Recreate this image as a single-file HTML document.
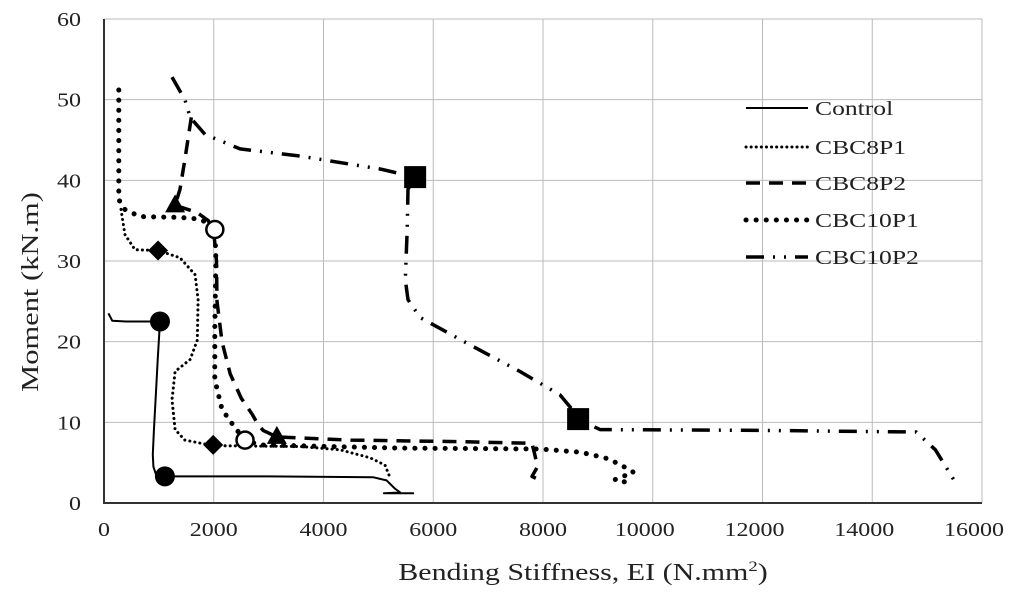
<!DOCTYPE html>
<html><head><meta charset="utf-8"><style>
html,body{margin:0;padding:0;background:#fff;}
svg text{font-family:"Liberation Serif",serif;fill:#222;}
</style></head><body>
<svg id="chart" width="1024" height="594" viewBox="0 0 1024 594" xmlns="http://www.w3.org/2000/svg">
<g id="grid"></g>
<g id="series"></g>
<g id="markers"></g>
<g id="axes"></g>
<text transform="translate(583,580) scale(1.25,1)" font-size="24" text-anchor="middle">Bending Stiffness, EI (N.mm<tspan font-size="15" dy="-9">2</tspan><tspan dy="9">)</tspan></text>
<text transform="translate(38,292) rotate(-90) scale(1.27,1)" font-size="24" text-anchor="middle">Moment (kN.m)</text>
<g id="legend"></g>
</svg>
<script>
const xTicks=[0,2000,4000,6000,8000,10000,12000,14000,16000];
const yTicks=[0,10,20,30,40,50,60];
const seriesNames=["Control","CBC8P1","CBC8P2","CBC10P1","CBC10P2"];
const controlX=[80,120,150,400,1020,980,950,910,890,900,950,1110,3000,4900,5150,5300,5400,5100,5650];
const controlY=[23.5,23,22.6,22.5,22.5,18,14,9,6,4.5,3.5,3.3,3.3,3.2,2.8,1.8,1.3,1.2,1.2];
const cbc8p1X=[310,380,565,985,1385,1660,1715,1700,1570,1295,1240,1295,1475,1990,3575,4300,4850,5120,5215];
const cbc8p1Y=[36.4,33.3,31.4,31.3,30.4,28.3,25.2,20.2,17.8,16.3,12.8,9.1,7.8,7.1,7.0,6.6,5.6,4.7,3.1];
const cbc8p2X=[1590,1475,1385,1295,1700,1900,2000,2050,2060,2150,2300,2500,2700,2800,2900,3150,4500,6500,7800,7850,7900,7800,7950];
const cbc8p2Y=[47.8,42.6,38.9,36.9,36.0,35.0,33.5,30,25,20,16,13,11,9.8,9.0,8.2,7.8,7.6,7.4,6,4.5,3.3,2.8];
const cbc10p1X=[270,270,380,655,1385,1750,1930,2020,2040,2020,2020,2150,2390,2570,2845,5400,7950,8680,9130,9400,9650,9310,9500];
const cbc10p1Y=[51.2,37.6,36.4,35.5,35.4,35.2,34.5,33.9,30.2,21.5,15.3,11.6,9.3,7.8,7.2,6.8,6.7,6.3,5.6,4.8,3.8,2.9,2.6];
const cbc10p2X=[1240,1475,1570,1840,2480,3575,5030,5670,5540,5525,5490,5540,5760,6670,7580,8310,8530,8640,9040,12000,14800,15150,15520];
const cbc10p2Y=[52.8,50,47.8,45.7,43.9,43,41.4,40.4,38.9,33.9,27.7,25.2,23,19.6,16.3,13.4,11.6,10.4,9.1,9.0,8.8,6.6,2.5];
const markerSeries=["Control","Control","CBC8P1","CBC8P1","CBC8P2","CBC8P2","CBC10P1","CBC10P1","CBC10P2","CBC10P2"];
const markerX=[1020,1110,985,1990,1295,3150,2020,2570,5670,8640];
const markerY=[22.5,3.3,31.3,7.2,36.9,8.2,33.9,7.8,40.4,10.4];

const X0=104,X1=982,Y0=503,Y1=19;
const sx=v=>X0+(v-0)/16000*(X1-X0);
const sy=v=>Y0-(v-0)/60*(Y0-Y1);
const NS="http://www.w3.org/2000/svg";
function mk(tag,parent){const e=document.createElementNS(NS,tag);document.getElementById(parent).appendChild(e);return e;}

xTicks.forEach(t=>{
  if(t>0){const l=mk('line','grid');
  
  
  l.setAttribute('x1',sx(t));l.setAttribute('x2',sx(t));l.setAttribute('y1',Y1);l.setAttribute('y2',Y0);
  l.setAttribute('stroke','#bbb');l.setAttribute('stroke-width','1');}
  const tx=mk('text','axes');
  
  
  tx.setAttribute('transform',`translate(${sx(t)-(t>=10000?8:0)},${Y0+33}) scale(1.2,1)`);
  tx.setAttribute('font-size','20');tx.setAttribute('text-anchor','middle');tx.textContent=t;
});
yTicks.forEach(t=>{
  if(t>0){const l=mk('line','grid');
  
  
  l.setAttribute('x1',X0);l.setAttribute('x2',X1);l.setAttribute('y1',sy(t));l.setAttribute('y2',sy(t));
  l.setAttribute('stroke','#bbb');l.setAttribute('stroke-width','1');}
  const tx=mk('text','axes');
  
  
  tx.setAttribute('transform',`translate(81,${sy(t)+7}) scale(1.2,1)`);
  tx.setAttribute('font-size','20');tx.setAttribute('text-anchor','end');tx.textContent=t;
});
const ax=mk('path','axes');


ax.setAttribute('d',`M${X0},${Y1}V${Y0}H${X1}`);ax.setAttribute('stroke','#333');ax.setAttribute('stroke-width','2');ax.setAttribute('fill','none');

const styles={
 "Control":{w:2,dash:null,cap:'butt'},
 "CBC8P1":{w:3,dash:'0.1 5',cap:'round'},
 "CBC8P2":{w:3.5,dash:'14 9',cap:'butt'},
 "CBC10P1":{w:5,dash:'0.1 10',cap:'round'},
 "CBC10P2":{w:3.5,dash:'18 9 2 9 2 9',cap:'butt'}
};
const data={"Control":[controlX,controlY],"CBC8P1":[cbc8p1X,cbc8p1Y],"CBC8P2":[cbc8p2X,cbc8p2Y],"CBC10P1":[cbc10p1X,cbc10p1Y],"CBC10P2":[cbc10p2X,cbc10p2Y]};
function applyStyle(el,s){el.setAttribute('stroke','#000');el.setAttribute('stroke-width',s.w);el.setAttribute('fill','none');
  if(s.dash)el.setAttribute('stroke-dasharray',s.dash);el.setAttribute('stroke-linecap',s.cap);el.setAttribute('stroke-linejoin','round');}
seriesNames.forEach(n=>{
  const [xs,ys]=data[n];
  const p=mk('path','series');
  
  
  p.setAttribute('d',xs.map((x,i)=>(i?'L':'M')+sx(x).toFixed(1)+','+sy(ys[i]).toFixed(1)).join(''));
  applyStyle(p,styles[n]);
});
markerSeries.forEach((n,i)=>{
  const cx=sx(markerX[i]),cy=sy(markerY[i]);let m;
  if(n==="Control"){m=mk('circle','markers');m.setAttribute('cx',cx);m.setAttribute('cy',cy);m.setAttribute('r',10);m.setAttribute('fill','#000');}
  else if(n==="CBC8P1"){m=mk('path','markers');m.setAttribute('d',`M${cx},${cy-10}L${cx+10},${cy}L${cx},${cy+10}L${cx-10},${cy}Z`);m.setAttribute('fill','#000');}
  else if(n==="CBC8P2"){m=mk('path','markers');m.setAttribute('d',`M${cx},${cy-11}L${cx+10},${cy+7}L${cx-10},${cy+7}Z`);m.setAttribute('fill','#000');}
  else if(n==="CBC10P1"){m=mk('circle','markers');m.setAttribute('cx',cx);m.setAttribute('cy',cy);m.setAttribute('r',8.5);m.setAttribute('fill','#fff');m.setAttribute('stroke','#000');m.setAttribute('stroke-width','2.5');}
  else {m=mk('rect','markers');m.setAttribute('x',cx-11);m.setAttribute('y',cy-11);m.setAttribute('width',22);m.setAttribute('height',22);m.setAttribute('fill','#000');}
  
  
});
const legY=[108,147,183,220,257];
seriesNames.forEach((n,i)=>{
  const l=mk('line','legend');
  
  
  l.setAttribute('x1',746);l.setAttribute('x2',808);l.setAttribute('y1',legY[i]);l.setAttribute('y2',legY[i]);
  applyStyle(l,styles[n]);
  const t=mk('text','legend');
  
  
  t.setAttribute('transform',`translate(815,${legY[i]+7}) scale(1.28,1)`);
  t.setAttribute('font-size','20');t.textContent=n;
});
</script>
</body></html>
